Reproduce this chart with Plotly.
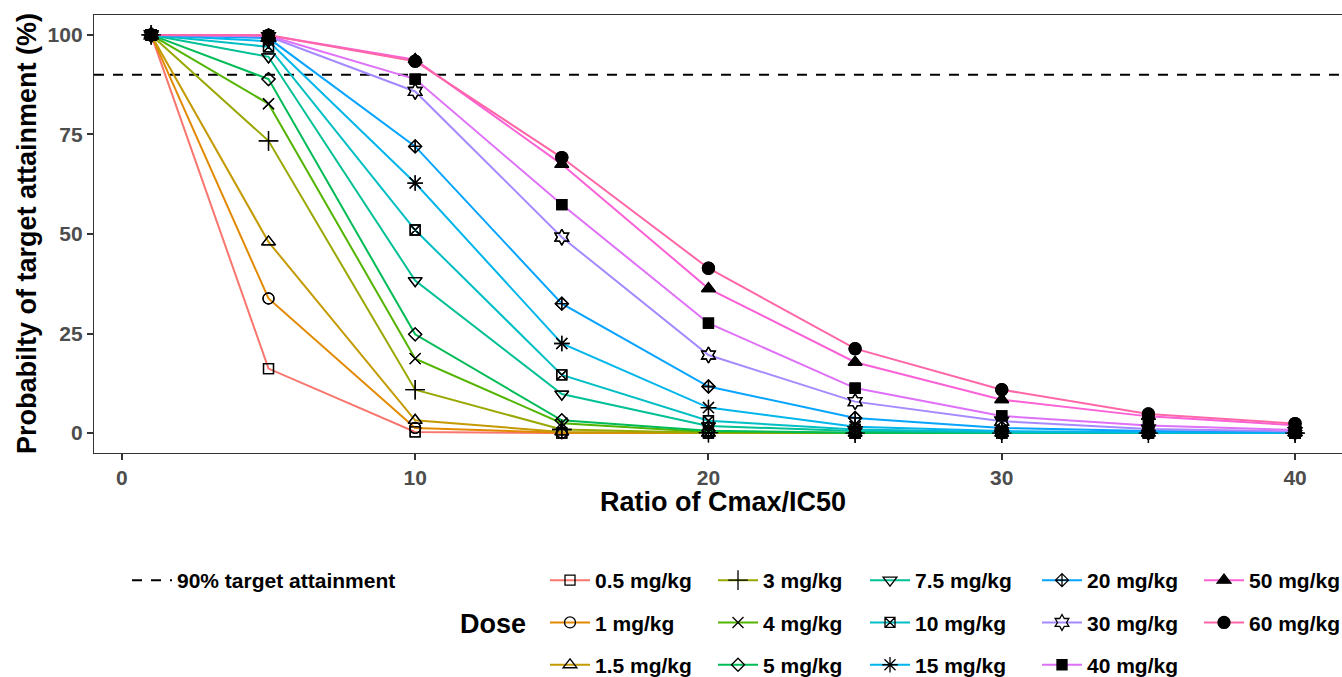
import math
import plotly.graph_objects as go

# ---------------- data ----------------
ratio = [1, 5, 10, 15, 20, 25, 30, 35, 40]
doses = ["0.5 mg/kg", "1 mg/kg", "1.5 mg/kg", "3 mg/kg", "4 mg/kg", "5 mg/kg", "7.5 mg/kg",
         "10 mg/kg", "15 mg/kg", "20 mg/kg", "30 mg/kg", "40 mg/kg", "50 mg/kg", "60 mg/kg"]

pta_0_5 = [100, 16.2, 0.3, 0.0, 0.0, 0.0, 0.0, 0.0, 0.0]
pta_1 = [100, 33.8, 1.3, 0.1, 0.0, 0.0, 0.0, 0.0, 0.0]
pta_1_5 = [100, 48.0, 3.2, 0.3, 0.0, 0.0, 0.0, 0.0, 0.0]
pta_3 = [100, 73.4, 10.9, 0.9, 0.1, 0.0, 0.0, 0.0, 0.0]
pta_4 = [100, 82.7, 18.7, 2.5, 0.3, 0.0, 0.0, 0.0, 0.0]
pta_5 = [100, 88.9, 24.8, 3.2, 0.6, 0.1, 0.0, 0.0, 0.0]
pta_7_5 = [100, 94.5, 38.3, 9.8, 1.8, 0.5, 0.1, 0.0, 0.0]
pta_10 = [100, 97.0, 51.0, 14.6, 3.1, 0.9, 0.3, 0.1, 0.0]
pta_15 = [100, 98.4, 62.8, 22.5, 6.4, 1.6, 0.5, 0.2, 0.1]
pta_20 = [100, 99.2, 72.0, 32.5, 11.7, 3.8, 1.3, 0.5, 0.2]
pta_30 = [100, 99.6, 85.8, 49.2, 19.6, 7.9, 3.0, 1.0, 0.4]
pta_40 = [100, 99.8, 88.9, 57.4, 27.6, 11.3, 4.3, 1.9, 0.8]
pta_50 = [100, 99.9, 93.8, 67.5, 36.3, 17.8, 8.4, 4.2, 2.0]
pta_60 = [100, 99.9, 93.4, 69.2, 41.4, 21.2, 10.9, 4.8, 2.4]

series = [pta_0_5, pta_1, pta_1_5, pta_3, pta_4, pta_5, pta_7_5,
          pta_10, pta_15, pta_20, pta_30, pta_40, pta_50, pta_60]

target = 90
x_ticks = [0, 10, 20, 30, 40]
y_ticks = [0, 25, 50, 75, 100]


# ---------------- styles ----------------
def hcl_hex(h, c=100.0, l=65.0):
    """polar-Luv (HCL) to sRGB hex, as in R's hcl() with clipping."""
    hr = math.radians(h)
    u, v = c * math.cos(hr), c * math.sin(hr)
    Xn, Yn, Zn = 95.047, 100.0, 108.883
    un = 4 * Xn / (Xn + 15 * Yn + 3 * Zn)
    vn = 9 * Yn / (Xn + 15 * Yn + 3 * Zn)
    Y = Yn * ((l + 16) / 116) ** 3
    up = u / (13 * l) + un
    vp = v / (13 * l) + vn
    X = Y * 9 * up / (4 * vp)
    Z = Y * (12 - 3 * up - 20 * vp) / (4 * vp)
    X, Y, Z = X / 100, Y / 100, Z / 100
    r = 3.240479 * X - 1.537150 * Y - 0.498535 * Z
    g = -0.969256 * X + 1.875992 * Y + 0.041556 * Z
    b = 0.055648 * X - 0.204043 * Y + 1.057311 * Z

    def gam(t):
        t = 12.92 * t if t <= 0.0031308 else 1.055 * t ** (1 / 2.4) - 0.055
        return int(round(min(max(t, 0.0), 1.0) * 255))
    return "#%02X%02X%02X" % (gam(r), gam(g), gam(b))


n = len(doses)
colors = [hcl_hex(15 + 360 * i / n) for i in range(n)]
symbols = ["square-open", "circle-open", "triangle-up-open", "cross-thin-open", "x-thin-open",
           "diamond-open", "triangle-down-open", "square-x-open", "asterisk-open",
           "diamond-cross-open", "hexagram-open", "square", "triangle-up", "circle"]
sizes = [10, 11, 12, 14, 11, 10, 12, 10, 13, 10, 12, 10, 12, 12]

W, H = 1342, 677
FONT = "Liberation Sans"


def px(xp):
    return xp / W


def py(yp):
    return 1 - yp / H


legend_cols = ["legend2", "legend2", "legend2", "legend3", "legend3", "legend3",
               "legend4", "legend4", "legend4", "legend5", "legend5", "legend5",
               "legend6", "legend6"]

fig = go.Figure()

for i, name in enumerate(doses):
    fig.add_trace(go.Scatter(
        x=ratio, y=series[i], name=name, mode="lines+markers",
        line=dict(color=colors[i], width=2),
        marker=dict(symbol=symbols[i], size=sizes[i], color="black",
                    line=dict(color="black", width=1.3)),
        legend=legend_cols[i], legendgroup=name, showlegend=True,
    ))

for i, name in enumerate(doses):
    fig.add_trace(go.Scatter(
        x=ratio, y=series[i], mode="markers", showlegend=False, hoverinfo="skip",
        marker=dict(symbol=symbols[i], size=sizes[i], color="black",
                    line=dict(color="black", width=1.3)),
    ))

fig.add_shape(type="line", xref="paper", x0=94 / W, x1=1, yref="y", y0=target, y1=target,
              line=dict(color="black", width=2, dash="10px,9px"), layer="below",
              showlegend=True, name="90% target attainment", legend="legend")

x_left = 94 / W
y_bot = (H - 453) / H
y_top = (H - 15) / H

tickfont = dict(family=FONT, size=21, color="#4D4D4D", weight="bold")
legfont = dict(family=FONT, size=21, color="black", weight="bold")

fig.update_layout(
    width=W, height=H,
    margin=dict(l=0, r=0, t=0, b=0, autoexpand=False),
    paper_bgcolor="white", plot_bgcolor="white",
    xaxis=dict(domain=[x_left, 1], range=[-0.95, -0.95 + (W - 94) / 29.33],
               tickvals=x_ticks, ticks="outside", ticklen=6, tickwidth=1.5, tickcolor="#333333",
               showgrid=False, zeroline=False, showline=True, mirror=True,
               linecolor="#333333", linewidth=1.3, tickfont=tickfont, automargin=False,
               anchor="y"),
    yaxis=dict(domain=[y_bot, y_top], range=[-5, 105],
               tickvals=y_ticks, ticks="outside", ticklen=6, tickwidth=1.5, tickcolor="#333333",
               showgrid=False, zeroline=False, showline=True, mirror=False,
               linecolor="#333333", linewidth=1.3, tickfont=tickfont, automargin=False,
               anchor="x"),
    showlegend=True,
)

common_leg = dict(font=legfont, bgcolor="rgba(0,0,0,0)", orientation="v",
                  traceorder="grouped", tracegroupgap=12, itemwidth=40,
                  xanchor="left", yanchor="top", itemclick=False, itemdoubleclick=False)

LEG_TOP = 560
fig.update_layout(
    legend=dict(x=px(127), y=py(LEG_TOP), **common_leg),
    legend2=dict(x=px(545), y=py(LEG_TOP), **common_leg),
    legend3=dict(x=px(713), y=py(LEG_TOP), **common_leg),
    legend4=dict(x=px(865), y=py(LEG_TOP), **common_leg),
    legend5=dict(x=px(1037), y=py(LEG_TOP), **common_leg),
    legend6=dict(x=px(1199), y=py(LEG_TOP), **common_leg),
)

annotations = [
    dict(text="Ratio of Cmax/IC50", x=(94 + 1352) / 2 / W, y=py(502), xref="paper", yref="paper",
         showarrow=False, xanchor="center", yanchor="middle",
         font=dict(family=FONT, size=27, color="black", weight="bold")),
    dict(text="Probabilty of target attainment (%)", x=px(27), y=py(234), xref="paper", yref="paper",
         showarrow=False, xanchor="center", yanchor="middle", textangle=-90,
         font=dict(family=FONT, size=27, color="black", weight="bold")),
    dict(text="Dose", x=px(458), y=py(624), xref="paper", yref="paper",
         showarrow=False, xanchor="left", yanchor="middle",
         font=dict(family=FONT, size=27, color="black", weight="bold")),
]
fig.update_layout(annotations=annotations)

fig.write_html("out.html", config={"displayModeBar": False},
               post_script="document.body.style.margin='0px';document.body.style.overflow='hidden';")
